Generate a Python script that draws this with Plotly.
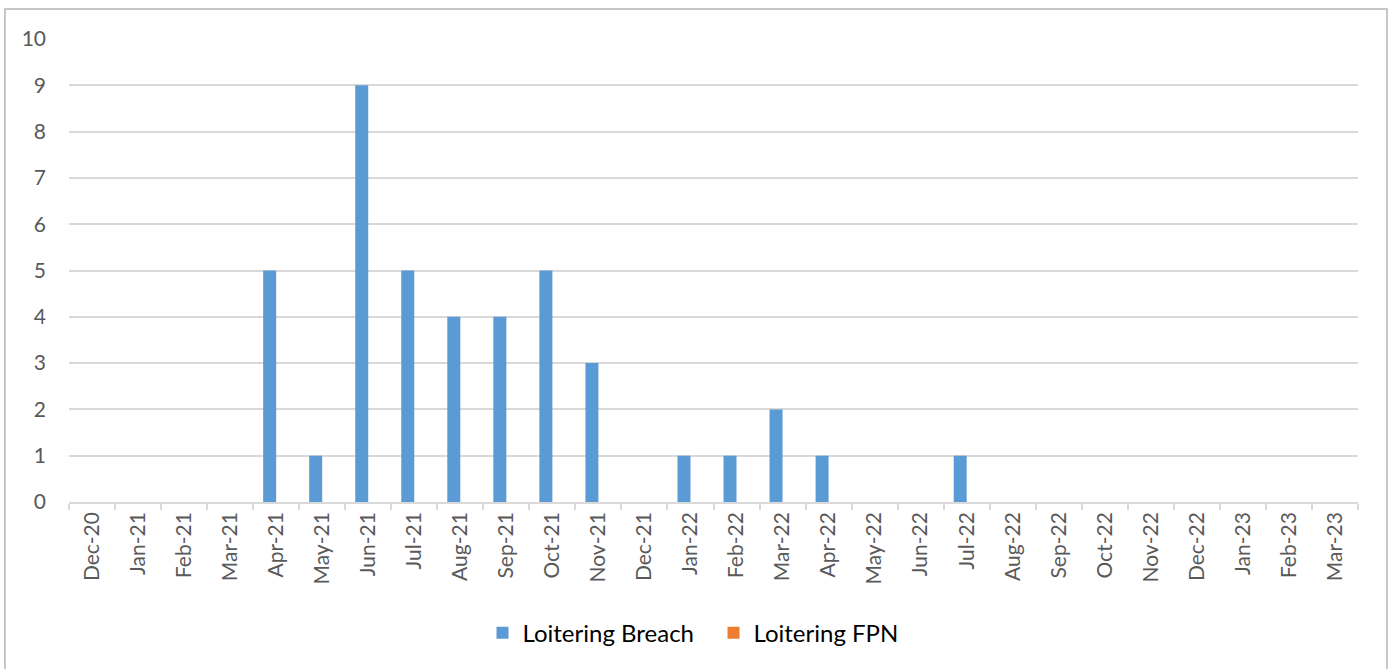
import plotly.graph_objects as go

# -----------------------------
# Data
# -----------------------------
months = [
    "Dec-20", "Jan-21", "Feb-21", "Mar-21", "Apr-21", "May-21", "Jun-21",
    "Jul-21", "Aug-21", "Sep-21", "Oct-21", "Nov-21", "Dec-21", "Jan-22",
    "Feb-22", "Mar-22", "Apr-22", "May-22", "Jun-22", "Jul-22", "Aug-22",
    "Sep-22", "Oct-22", "Nov-22", "Dec-22", "Jan-23", "Feb-23", "Mar-23",
]
loitering_breach = [0, 0, 0, 0, 5, 1, 9, 5, 4, 4, 5, 3, 0, 1,
                    1, 2, 1, 0, 0, 1, 0, 0, 0, 0, 0, 0, 0, 0]
loitering_fpn = [0] * len(months)

y_ticks = list(range(0, 11))

# -----------------------------
# Plot
# -----------------------------
fig = go.Figure()

fig.add_trace(go.Bar(
    x=months,
    y=loitering_breach,
    name="Loitering Breach",
    marker=dict(color="#5b9bd5", line=dict(width=0)),
))

fig.add_trace(go.Bar(
    x=months,
    y=loitering_fpn,
    name="Loitering FPN",
    marker=dict(color="#ed7d31", line=dict(width=0)),
))

# chart frame (Excel style border)
fig.add_shape(
    type="rect",
    xref="paper", yref="paper",
    x0=-0.0497, x1=1.0225, y0=-0.37, y1=1.0648,
    line=dict(color="#b4b4b4", width=1.5),
    fillcolor="rgba(0,0,0,0)",
    layer="below",
)

fig.update_layout(
    width=1395,
    height=669,
    margin=dict(l=69, r=37, t=39, b=167),
    paper_bgcolor="white",
    plot_bgcolor="white",
    barmode="group",
    bargap=0.435,
    bargroupgap=0,
    font=dict(family="Lato, Noto Sans, sans-serif", color="#595959", size=21),
    showlegend=True,
    legend=dict(
        orientation="h",
        x=0.5, xanchor="center",
        y=-0.283, yanchor="middle",
        font=dict(color="#000000", size=24),
        itemwidth=30,
        entrywidth=186,
        entrywidthmode="pixels",
        traceorder="normal",
    ),
)

fig.update_xaxes(
    type="category",
    tickangle=-90,
    tickson="boundaries",
    ticks="outside",
    ticklen=6,
    tickwidth=1.5,
    tickcolor="#d9d9d9",
    showline=True,
    linecolor="#d9d9d9",
    linewidth=1.5,
    showgrid=False,
    tickfont=dict(size=21, color="#595959"),
)

fig.update_yaxes(
    range=[0, 10],
    tickvals=y_ticks,
    showgrid=True,
    gridcolor="#d9d9d9",
    gridwidth=1.5,
    zeroline=False,
    showline=False,
    ticks="",
    ticklabelstandoff=22,
    tickfont=dict(size=21, color="#595959"),
)

fig.write_html(
    "out.html",
    config={"displayModeBar": False},
    post_script="document.body.style.margin='0';",
)
